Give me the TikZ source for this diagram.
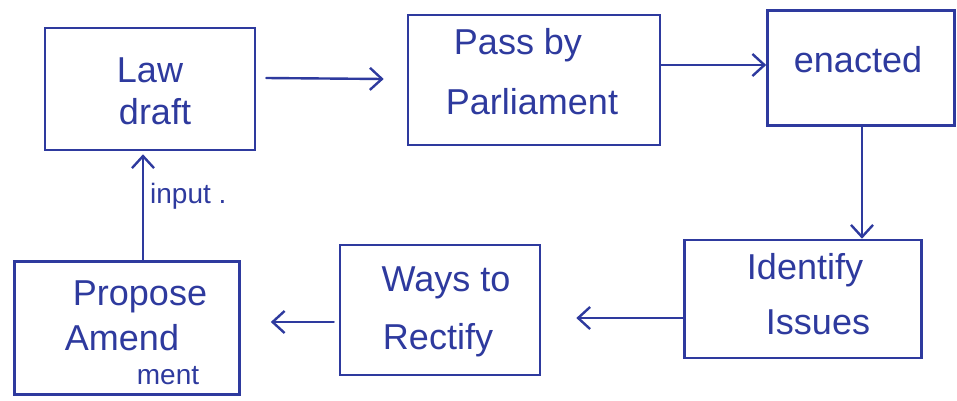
\documentclass[tikz,border=0pt]{standalone}
\usepackage{fontspec}
\setmainfont{Liberation Sans}
\usetikzlibrary{arrows.meta,calc}
\definecolor{ink}{RGB}{46,58,158}
\tikzset{
  box/.style={draw=ink, line width=2.6pt, inner sep=0pt},
  txt/.style={text=ink, font=\fontsize{36}{40}\selectfont, inner sep=0pt, anchor=center},
  smalltxt/.style={text=ink, font=\fontsize{28}{32}\selectfont, inner sep=0pt},
  arr/.style={draw=ink, line width=2.4pt, line cap=round, -{Straight Barb[length=12pt,width=22pt,line width=2.4pt]}}
}
\begin{document}
\begin{tikzpicture}[x=1pt,y=-1pt]
  \useasboundingbox (0,0) rectangle (957,400);
  \fill[white] (0,0) rectangle (957,400);

  % boxes
  \node[box, minimum width=210pt, minimum height=122pt] (law) at (150,89) {};
  \node[box, minimum width=252pt, minimum height=130pt] (pass) at (534,80) {};
  \node[box, minimum width=187pt, minimum height=115pt] (enacted) at (861,68) {};
  \node[box, minimum width=237pt, minimum height=118pt] (identify) at (803,299) {};
  \node[box, minimum width=200pt, minimum height=130pt] (ways) at (440,310) {};
  \node[box, minimum width=225pt, minimum height=133pt] (propose) at (127,328) {};

  % box texts
  \node[txt] (lawA) at (150,70) {Law};
  \node[txt] (lawB) at (155,112) {draft};
  \node[txt] (passA) at (518,45) {Pass by};
  \node[txt] (passB) at (532,102) {Parliament};
  \node[txt] (enA) at (858,60) {enacted};
  \node[txt] (idA) at (805,270) {Identify};
  \node[txt] (idB) at (818,322) {Issues};
  \node[txt] (waysA) at (446,283) {Ways to};
  \node[txt] (waysB) at (438,340) {Rectify};
  \node[txt] (propA) at (140,297) {Propose};
  \node[txt] (propB) at (122,338) {Amend};
  \node[smalltxt] (propC) at (168,376) {ment};

  % connectors
  \draw[arr] ([xshift=10pt,yshift=11pt]law.east) -- ([xshift=-23pt,yshift=1pt]pass.west);
  \draw[arr] ([yshift=15pt]pass.east) -- ([yshift=3pt]enacted.west);
  \draw[arr] ([xshift=1pt]enacted.south) -- ([xshift=59pt]identify.north);
  \draw[arr] ([yshift=-19pt]identify.west) -- ([xshift=35pt,yshift=-8pt]ways.east);
  \draw[arr] ([xshift=-5pt,yshift=-12pt]ways.west) -- ([xshift=30pt,yshift=6pt]propose.east);
  \draw[arr] ([xshift=16pt]propose.north) -- ([xshift=-7pt,yshift=-3pt]law.south);
  \node[smalltxt, anchor=west] (inp) at (150,196) {input .};
\end{tikzpicture}
\end{document}
